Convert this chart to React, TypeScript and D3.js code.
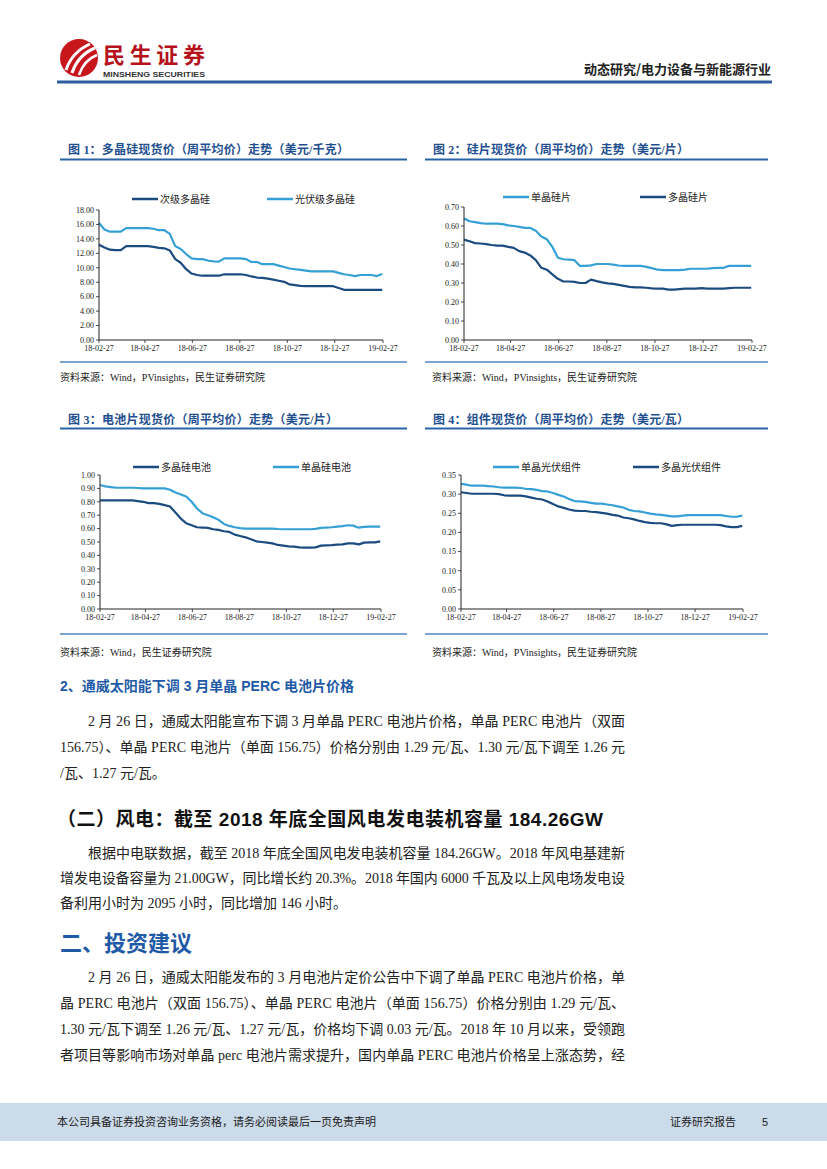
import React from "react";
import * as d3 from "d3";

// ---------- DATA ----------
const weekCount = 53;
const startDate = new Date(2018, 1, 27);
const tickDates = ["2018-02-27", "2018-04-27", "2018-06-27", "2018-08-27", "2018-10-27", "2018-12-27", "2019-02-27"];
const tickLabels = ["18-02-27", "18-04-27", "18-06-27", "18-08-27", "18-10-27", "18-12-27", "19-02-27"];

// Chart 1 polysilicon (USD/kg)
const polySecondary = [13.2, 12.8, 12.5, 12.45, 12.45, 13.0, 13.0, 13.0, 13.0, 13.0, 12.9, 12.75, 12.7, 12.4, 11.2, 10.7, 9.8, 9.2, 9.0, 8.9, 8.9, 8.9, 8.9, 9.1, 9.1, 9.1, 9.1, 9.0, 8.8, 8.65, 8.6, 8.5, 8.35, 8.2, 8.05, 7.7, 7.6, 7.5, 7.45, 7.45, 7.45, 7.45, 7.45, 7.45, 7.2, 6.95, 6.95, 6.95, 6.95, 6.95, 6.95, 6.95, 6.95];
const polyPV = [16.2, 15.3, 15.0, 15.0, 15.0, 15.5, 15.5, 15.5, 15.5, 15.5, 15.4, 15.2, 15.2, 14.7, 13.0, 12.6, 11.9, 11.3, 11.2, 11.2, 11.0, 10.9, 10.85, 11.3, 11.3, 11.3, 11.3, 11.2, 10.8, 10.8, 10.5, 10.5, 10.5, 10.3, 10.1, 9.9, 9.8, 9.7, 9.6, 9.5, 9.5, 9.5, 9.5, 9.5, 9.3, 9.1, 9.0, 8.85, 9.0, 9.0, 9.0, 8.85, 9.15];

// Chart 2 wafers (USD/piece)
const waferMono = [0.64, 0.625, 0.62, 0.615, 0.612, 0.612, 0.612, 0.61, 0.603, 0.6, 0.595, 0.59, 0.59, 0.575, 0.545, 0.53, 0.49, 0.433, 0.425, 0.423, 0.42, 0.39, 0.39, 0.393, 0.4, 0.4, 0.4, 0.397, 0.392, 0.39, 0.39, 0.39, 0.39, 0.385, 0.378, 0.37, 0.368, 0.368, 0.368, 0.368, 0.37, 0.375, 0.375, 0.375, 0.375, 0.378, 0.38, 0.38, 0.39, 0.39, 0.39, 0.39, 0.39];
const waferMulti = [0.528, 0.52, 0.51, 0.508, 0.505, 0.5, 0.497, 0.497, 0.49, 0.485, 0.468, 0.46, 0.445, 0.42, 0.38, 0.37, 0.345, 0.322, 0.308, 0.308, 0.306, 0.3, 0.3, 0.318, 0.31, 0.303, 0.298, 0.295, 0.29, 0.285, 0.28, 0.277, 0.277, 0.275, 0.272, 0.27, 0.27, 0.265, 0.265, 0.268, 0.27, 0.27, 0.27, 0.273, 0.27, 0.27, 0.27, 0.27, 0.273, 0.275, 0.275, 0.275, 0.275];

// Chart 3 cells (USD/piece)
const cellMulti = [0.81, 0.81, 0.81, 0.81, 0.81, 0.81, 0.81, 0.805, 0.8, 0.79, 0.79, 0.785, 0.775, 0.765, 0.72, 0.675, 0.64, 0.625, 0.61, 0.608, 0.605, 0.595, 0.59, 0.58, 0.575, 0.555, 0.545, 0.535, 0.52, 0.505, 0.5, 0.495, 0.49, 0.478, 0.473, 0.468, 0.465, 0.46, 0.458, 0.458, 0.46, 0.473, 0.475, 0.477, 0.48, 0.482, 0.49, 0.49, 0.482, 0.495, 0.497, 0.497, 0.505];
const cellMono = [0.925, 0.915, 0.91, 0.905, 0.905, 0.905, 0.905, 0.903, 0.9, 0.9, 0.9, 0.9, 0.9, 0.89, 0.87, 0.855, 0.84, 0.8, 0.75, 0.715, 0.7, 0.685, 0.665, 0.635, 0.62, 0.61, 0.603, 0.6, 0.6, 0.6, 0.6, 0.6, 0.6, 0.597, 0.595, 0.595, 0.595, 0.595, 0.595, 0.595, 0.598, 0.605, 0.608, 0.61, 0.615, 0.618, 0.625, 0.622, 0.607, 0.613, 0.615, 0.615, 0.615];

// Chart 4 modules (USD/W)
const moduleMono = [0.327, 0.325, 0.322, 0.322, 0.322, 0.321, 0.32, 0.318, 0.317, 0.317, 0.317, 0.316, 0.314, 0.313, 0.311, 0.308, 0.307, 0.303, 0.298, 0.294, 0.287, 0.282, 0.281, 0.28, 0.277, 0.275, 0.275, 0.273, 0.271, 0.268, 0.265, 0.259, 0.256, 0.255, 0.252, 0.249, 0.247, 0.246, 0.244, 0.242, 0.242, 0.244, 0.245, 0.245, 0.245, 0.245, 0.245, 0.245, 0.245, 0.243, 0.241, 0.241, 0.244];
const moduleMulti = [0.305, 0.303, 0.301, 0.301, 0.301, 0.301, 0.301, 0.3, 0.297, 0.296, 0.296, 0.296, 0.294, 0.291, 0.288, 0.286, 0.281, 0.274, 0.268, 0.264, 0.26, 0.257, 0.256, 0.256, 0.254, 0.253, 0.251, 0.249, 0.246, 0.244, 0.239, 0.237, 0.234, 0.23, 0.227, 0.225, 0.224, 0.224, 0.221, 0.217, 0.219, 0.22, 0.22, 0.22, 0.22, 0.22, 0.22, 0.22, 0.219, 0.216, 0.214, 0.214, 0.217];

const yTicks1 = [0, 2, 4, 6, 8, 10, 12, 14, 16, 18];
const yTicks2 = [0, 0.1, 0.2, 0.3, 0.4, 0.5, 0.6, 0.7];
const yTicks3 = [0, 0.1, 0.2, 0.3, 0.4, 0.5, 0.6, 0.7, 0.8, 0.9, 1.0];
const yTicks4 = [0, 0.05, 0.1, 0.15, 0.2, 0.25, 0.3, 0.35];

// ---------- STYLE ----------
const DARK = "#1c4b80";
const LIGHT = "#35a0d6";
const TITLE_BLUE = "#1f4f8f";
const SERIF = "'Liberation Serif', 'Times New Roman', 'Noto Sans CJK SC', serif";
const SANS = "'Liberation Sans', Arial, 'Noto Sans CJK SC', sans-serif";
const CJK = "'Noto Sans CJK SC', sans-serif";

const dates = d3.range(weekCount).map((i) => d3.timeDay.offset(startDate, 7 * i));
const parse = d3.timeParse("%Y-%m-%d");

type Series = { name: string; values: number[]; color: string; lx: number };

function LineChart(props: {
  x0: number; x1: number; yTop: number; yBot: number; yMax: number;
  yTicks: number[]; series: Series[]; legendY: number;
}) {
  const { x0, x1, yTop, yBot, yMax, yTicks, series, legendY } = props;
  const x = d3.scaleTime().domain([parse(tickDates[0])!, parse(tickDates[6])!]).range([x0, x1]);
  const y = d3.scaleLinear().domain([0, yMax]).range([yBot, yTop]);
  const line = d3.line<number>().x((_, i) => x(dates[i])).y((v) => y(v));
  return (
    <g>
      {series.map((s) => (
        <g key={s.name}>
          <line x1={s.lx} x2={s.lx + 26} y1={legendY} y2={legendY} stroke={s.color} strokeWidth={2.5} />
          <text x={s.lx + 28} y={legendY + 3.5} fontSize={10} fontFamily={CJK} fill="#222">{s.name}</text>
        </g>
      ))}
      {series.map((s) => (
        <path key={s.name + "p"} d={line(s.values) || ""} fill="none" stroke={s.color} strokeWidth={2.2} strokeLinejoin="round" />
      ))}
      <line x1={x0} x2={x0} y1={yTop} y2={yBot} stroke="#222" strokeWidth={1} />
      <line x1={x0} x2={x1} y1={yBot} y2={yBot} stroke="#222" strokeWidth={1} />
      {yTicks.map((t) => (
        <g key={"y" + t}>
          <line x1={x0 - 3} x2={x0} y1={y(t)} y2={y(t)} stroke="#222" strokeWidth={0.8} />
          <text x={x0 - 5} y={y(t) + 2.8} fontSize={8} fontFamily={SERIF} textAnchor="end" fill="#222">{t.toFixed(2)}</text>
        </g>
      ))}
      {tickDates.map((d, i) => {
        const xp = x(parse(d)!);
        return (
          <g key={"x" + d}>
            <line x1={xp} x2={xp} y1={yBot} y2={yBot + 3} stroke="#222" strokeWidth={0.8} />
            <text x={xp} y={yBot + 11} fontSize={8} fontFamily={SERIF} textAnchor="middle" fill="#222">{tickLabels[i]}</text>
          </g>
        );
      })}
    </g>
  );
}

function ChartFrame(props: { lx: number; rx: number; titleY: number; topLine: number; botLine: number; title: string; titleW: number; source: string; sourceX: number; sourceY: number }) {
  const p = props;
  return (
    <g>
      <text x={p.lx + 8} y={p.titleY + 4.5} fontSize={12} fontWeight="bold" fontFamily={SERIF} fill={TITLE_BLUE} textLength={p.titleW} lengthAdjust="spacing">{p.title}</text>
      <line x1={p.lx} x2={p.rx} y1={p.topLine} y2={p.topLine} stroke="#2a62a6" strokeWidth={2} />
      <line x1={p.lx} x2={p.rx} y1={p.botLine} y2={p.botLine} stroke="#4f86c4" strokeWidth={1.5} />
      <text x={p.sourceX} y={p.sourceY + 3.5} fontSize={10} fontFamily={SERIF} fill="#222">{p.source}</text>
    </g>
  );
}

const para1 = [
  { t: "2 月 26 日，通威太阳能宣布下调 3 月单晶 PERC 电池片价格，单晶 PERC 电池片（双面", x: 88, j: true },
  { t: "156.75）、单晶 PERC 电池片（单面 156.75）价格分别由 1.29 元/瓦、1.30 元/瓦下调至 1.26 元", x: 60, j: true },
  { t: "/瓦、1.27 元/瓦。", x: 60, j: false },
];
const para2 = [
  { t: "根据中电联数据，截至 2018 年底全国风电发电装机容量 184.26GW。2018 年风电基建新", x: 88, j: true },
  { t: "增发电设备容量为 21.00GW，同比增长约 20.3%。2018 年国内 6000 千瓦及以上风电场发电设", x: 60, j: true },
  { t: "备利用小时为 2095 小时，同比增加 146 小时。", x: 60, j: false },
];
const para3 = [
  { t: "2 月 26 日，通威太阳能发布的 3 月电池片定价公告中下调了单晶 PERC 电池片价格，单", x: 88, j: true },
  { t: "晶 PERC 电池片（双面 156.75）、单晶 PERC 电池片（单面 156.75）价格分别由 1.29 元/瓦、", x: 60, j: true },
  { t: "1.30 元/瓦下调至 1.26 元/瓦、1.27 元/瓦，价格均下调 0.03 元/瓦。2018 年 10 月以来，受领跑", x: 60, j: true },
  { t: "者项目等影响市场对单晶 perc 电池片需求提升，国内单晶 PERC 电池片价格呈上涨态势，经", x: 60, j: true },
];

function Para(props: { lines: { t: string; x: number; j: boolean }[]; ys: number[] }) {
  return (
    <g>
      {props.lines.map((l, i) => (
        <text key={i} x={l.x} y={props.ys[i] + 5} fontSize={14} fontFamily={SERIF} fill="#222"
          {...(l.j ? { textLength: 625 - l.x, lengthAdjust: "spacing" } : {})}>{l.t}</text>
      ))}
    </g>
  );
}

export default function App() {
  return (
    <svg width={827} height={1169} style={{ position: "absolute", left: 0, top: 0, background: "#fff" }}>
      <rect width={827} height={1169} fill="#fff" />
      {/* header logo */}
      <circle cx={79} cy={58} r={19} fill="#c8161d" />
      <path d="M66,70 Q72,52 90,44" stroke="#fff" strokeWidth={3} fill="none" />
      <path d="M72,73 Q78,55 95,48" stroke="#fff" strokeWidth={3} fill="none" />
      <path d="M79,75 Q84,60 97,55" stroke="#fff" strokeWidth={2.5} fill="none" />
      <text x={103} y={63} fontSize={22} fontWeight="bold" fontFamily={CJK} fill="#b5121b" textLength={102} lengthAdjust="spacing">民生证券</text>
      <text x={103} y={77} fontSize={7.5} fontWeight="bold" fontFamily={SANS} fill="#333" textLength={102} lengthAdjust="spacingAndGlyphs">MINSHENG SECURITIES</text>
      <text x={771} y={74} fontSize={13} fontWeight="bold" fontFamily={CJK} fill="#222" textAnchor="end">动态研究/电力设备与新能源行业</text>
      <line x1={57} x2={772} y1={82} y2={82} stroke="#2d5f9f" strokeWidth={3} />

      {/* chart frames */}
      <ChartFrame lx={60} rx={407} titleY={149} topLine={159.5} botLine={362} title="图 1：多晶硅现货价（周平均价）走势（美元/千克）" titleW={281} source="资料来源：Wind，PVinsights，民生证券研究院" sourceX={60} sourceY={377} />
      <ChartFrame lx={425} rx={768} titleY={149} topLine={159.5} botLine={362} title="图 2：硅片现货价（周平均价）走势（美元/片）" titleW={256} source="资料来源：Wind，PVinsights，民生证券研究院" sourceX={432} sourceY={377} />
      <ChartFrame lx={60} rx={407} titleY={419} topLine={428.5} botLine={634} title="图 3：电池片现货价（周平均价）走势（美元/片）" titleW={270} source="资料来源：Wind，民生证券研究院" sourceX={60} sourceY={652} />
      <ChartFrame lx={425} rx={768} titleY={419} topLine={428.5} botLine={634} title="图 4：组件现货价（周平均价）走势（美元/瓦）" titleW={256} source="资料来源：Wind，PVinsights，民生证券研究院" sourceX={432} sourceY={652} />

      <LineChart x0={99} x1={383} yTop={210} yBot={340} yMax={18} yTicks={yTicks1} legendY={199}
        series={[{ name: "次级多晶硅", values: polySecondary, color: DARK, lx: 132 }, { name: "光伏级多晶硅", values: polyPV, color: LIGHT, lx: 267 }]} />
      <LineChart x0={464} x1={752} yTop={207} yBot={340} yMax={0.7} yTicks={yTicks2} legendY={197}
        series={[{ name: "单晶硅片", values: waferMono, color: LIGHT, lx: 503 }, { name: "多晶硅片", values: waferMulti, color: DARK, lx: 640 }]} />
      <LineChart x0={100} x1={381} yTop={475} yBot={609} yMax={1.0} yTicks={yTicks3} legendY={467}
        series={[{ name: "多晶硅电池", values: cellMulti, color: DARK, lx: 133 }, { name: "单晶硅电池", values: cellMono, color: LIGHT, lx: 273 }]} />
      <LineChart x0={461} x1={743} yTop={475} yBot={609} yMax={0.35} yTicks={yTicks4} legendY={467}
        series={[{ name: "单晶光伏组件", values: moduleMono, color: LIGHT, lx: 493 }, { name: "多晶光伏组件", values: moduleMulti, color: DARK, lx: 633 }]} />

      {/* body text */}
      <text x={60} y={691} fontSize={14} fontWeight="bold" fontFamily={SANS} fill="#1f5aa6">2、通威太阳能下调 3 月单晶 PERC 电池片价格</text>
      <Para lines={para1} ys={[721, 747, 773]} />
      <text x={57} y={826} fontSize={19} fontWeight="bold" fontFamily={SANS} fill="#111" textLength={546} lengthAdjust="spacing">（二）风电：截至 2018 年底全国风电发电装机容量 184.26GW</text>
      <Para lines={para2} ys={[853, 878, 903]} />
      <text x={60} y={951} fontSize={22} fontWeight="bold" fontFamily={CJK} fill="#1f5aa6">二、投资建议</text>
      <Para lines={para3} ys={[977, 1003, 1029, 1055]} />

      {/* footer */}
      <rect x={0} y={1103} width={827} height={38} fill="#ccdbea" />
      <text x={57} y={1126} fontSize={11} fontFamily={CJK} fill="#222">本公司具备证券投资咨询业务资格，请务必阅读最后一页免责声明</text>
      <text x={670} y={1126} fontSize={11} fontFamily={CJK} fill="#222">证券研究报告</text>
      <text x={762} y={1126} fontSize={11} fontFamily={SANS} fill="#222">5</text>
    </svg>
  );
}
